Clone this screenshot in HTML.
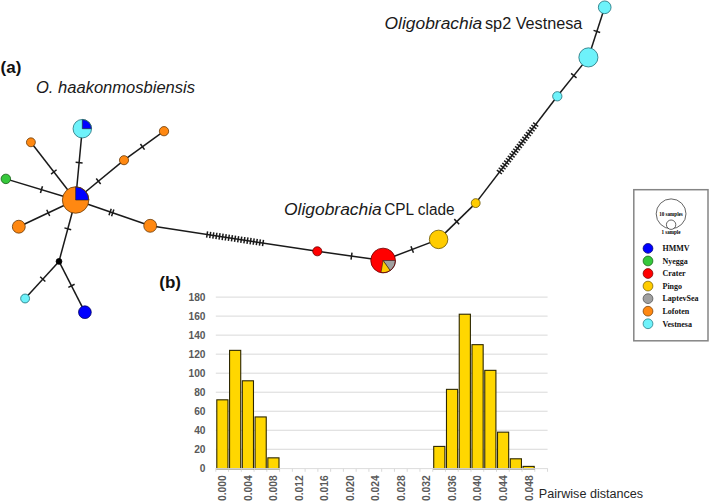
<!DOCTYPE html>
<html><head><meta charset="utf-8"><style>
html,body{margin:0;padding:0;background:#fff;}
body{width:709px;height:502px;overflow:hidden;font-family:"Liberation Sans",sans-serif;}
svg{position:absolute;left:0;top:0;}
</style></head><body>
<svg width="709" height="502" viewBox="0 0 709 502">
<g stroke="#1a1a1a" stroke-width="1.50" fill="none" stroke-linecap="butt">
<line x1="75.60" y1="200.00" x2="82.30" y2="128.70"/>
<line x1="75.63" y1="162.30" x2="82.60" y2="162.96"/>
<line x1="75.60" y1="200.00" x2="30.90" y2="142.30"/>
<line x1="51.06" y1="174.04" x2="56.59" y2="169.75"/>
<line x1="75.60" y1="200.00" x2="5.85" y2="178.90"/>
<line x1="40.44" y1="193.02" x2="42.47" y2="186.32"/>
<line x1="75.60" y1="200.00" x2="18.80" y2="226.70"/>
<line x1="49.72" y1="216.03" x2="46.74" y2="209.70"/>
<line x1="75.60" y1="200.00" x2="59.00" y2="261.40"/>
<line x1="71.19" y1="229.72" x2="64.43" y2="227.90"/>
<line x1="59.00" y1="261.40" x2="25.10" y2="298.50"/>
<line x1="45.34" y1="281.54" x2="40.17" y2="276.82"/>
<line x1="59.00" y1="261.40" x2="84.90" y2="312.20"/>
<line x1="74.59" y1="284.27" x2="68.35" y2="287.45"/>
<line x1="75.60" y1="200.00" x2="124.00" y2="160.20"/>
<line x1="96.23" y1="178.50" x2="100.68" y2="183.91"/>
<line x1="124.00" y1="160.20" x2="164.00" y2="131.20"/>
<line x1="140.44" y1="143.96" x2="144.55" y2="149.63"/>
<line x1="75.60" y1="200.00" x2="150.20" y2="225.80"/>
<line x1="111.26" y1="208.63" x2="108.97" y2="215.24"/>
<line x1="113.86" y1="209.53" x2="111.57" y2="216.14"/>
<line x1="150.20" y1="225.80" x2="317.30" y2="251.30"/>
<line x1="207.59" y1="231.32" x2="206.62" y2="237.65"/>
<line x1="210.69" y1="231.79" x2="209.73" y2="238.12"/>
<line x1="213.80" y1="232.27" x2="212.83" y2="238.59"/>
<line x1="216.90" y1="232.74" x2="215.94" y2="239.07"/>
<line x1="220.01" y1="233.22" x2="219.04" y2="239.54"/>
<line x1="223.11" y1="233.69" x2="222.15" y2="240.02"/>
<line x1="226.22" y1="234.16" x2="225.25" y2="240.49"/>
<line x1="229.32" y1="234.64" x2="228.36" y2="240.96"/>
<line x1="232.43" y1="235.11" x2="231.46" y2="241.44"/>
<line x1="235.53" y1="235.59" x2="234.57" y2="241.91"/>
<line x1="238.64" y1="236.06" x2="237.67" y2="242.39"/>
<line x1="241.74" y1="236.53" x2="240.78" y2="242.86"/>
<line x1="244.85" y1="237.01" x2="243.88" y2="243.33"/>
<line x1="247.95" y1="237.48" x2="246.99" y2="243.81"/>
<line x1="251.06" y1="237.95" x2="250.09" y2="244.28"/>
<line x1="254.16" y1="238.43" x2="253.20" y2="244.76"/>
<line x1="257.27" y1="238.90" x2="256.30" y2="245.23"/>
<line x1="260.38" y1="239.38" x2="259.41" y2="245.70"/>
<line x1="263.48" y1="239.85" x2="262.52" y2="246.18"/>
<line x1="317.30" y1="251.30" x2="383.10" y2="260.50"/>
<line x1="352.01" y1="252.62" x2="351.05" y2="259.55"/>
<line x1="383.10" y1="260.50" x2="438.60" y2="239.40"/>
<line x1="410.96" y1="246.17" x2="413.44" y2="252.71"/>
<line x1="438.60" y1="239.40" x2="475.70" y2="203.10"/>
<line x1="454.30" y1="219.14" x2="459.20" y2="224.15"/>
<line x1="475.70" y1="203.10" x2="557.30" y2="96.30"/>
<line x1="496.87" y1="170.13" x2="501.95" y2="174.01"/>
<line x1="498.68" y1="167.75" x2="503.77" y2="171.64"/>
<line x1="500.50" y1="165.38" x2="505.58" y2="169.26"/>
<line x1="502.31" y1="163.00" x2="507.40" y2="166.89"/>
<line x1="504.13" y1="160.62" x2="509.21" y2="164.51"/>
<line x1="505.94" y1="158.25" x2="511.03" y2="162.13"/>
<line x1="507.76" y1="155.87" x2="512.84" y2="159.76"/>
<line x1="509.57" y1="153.50" x2="514.66" y2="157.38"/>
<line x1="511.39" y1="151.12" x2="516.47" y2="155.01"/>
<line x1="513.20" y1="148.75" x2="518.29" y2="152.63"/>
<line x1="515.02" y1="146.37" x2="520.10" y2="150.26"/>
<line x1="516.83" y1="143.99" x2="521.92" y2="147.88"/>
<line x1="518.65" y1="141.62" x2="523.73" y2="145.50"/>
<line x1="520.46" y1="139.24" x2="525.55" y2="143.13"/>
<line x1="522.28" y1="136.87" x2="527.36" y2="140.75"/>
<line x1="524.09" y1="134.49" x2="529.18" y2="138.38"/>
<line x1="525.91" y1="132.12" x2="530.99" y2="136.00"/>
<line x1="527.72" y1="129.74" x2="532.81" y2="133.63"/>
<line x1="529.54" y1="127.36" x2="534.62" y2="131.25"/>
<line x1="531.35" y1="124.99" x2="536.44" y2="128.87"/>
<line x1="533.17" y1="122.61" x2="538.25" y2="126.50"/>
<line x1="557.30" y1="96.30" x2="588.40" y2="57.40"/>
<line x1="571.10" y1="73.44" x2="576.56" y2="77.81"/>
<line x1="588.40" y1="57.40" x2="604.70" y2="7.30"/>
<line x1="593.52" y1="30.36" x2="600.17" y2="32.53"/>
</g>
<circle cx="75.60" cy="200.00" r="13.25" fill="#ff8811"/>
<path d="M75.60 200.00 L75.60 186.75 A13.25 13.25 0 0 1 88.85 200.00 Z" fill="#0000ff" stroke="#222" stroke-width="0.6"/>
<circle cx="75.60" cy="200.00" r="13.25" fill="none" stroke="#6a3a08" stroke-width="0.8"/>
<circle cx="82.30" cy="128.70" r="9.25" fill="#6ef2fa"/>
<path d="M82.30 128.70 L82.30 119.45 A9.25 9.25 0 0 1 91.55 128.70 Z" fill="#0000ff" stroke="#222" stroke-width="0.6"/>
<circle cx="82.30" cy="128.70" r="9.25" fill="none" stroke="#1f6f78" stroke-width="0.8"/>
<circle cx="30.90" cy="142.30" r="4.45" fill="#ff8811" stroke="#6a3a08" stroke-width="0.8"/>
<circle cx="5.85" cy="178.90" r="4.75" fill="#36c83c" stroke="#145a14" stroke-width="0.8"/>
<circle cx="18.80" cy="226.70" r="6.45" fill="#ff8811" stroke="#6a3a08" stroke-width="0.8"/>
<circle cx="59.00" cy="261.40" r="2.90" fill="#000000" stroke="#000" stroke-width="0.8"/>
<circle cx="25.10" cy="298.50" r="4.45" fill="#6ef2fa" stroke="#1f6f78" stroke-width="0.8"/>
<circle cx="84.90" cy="312.20" r="6.35" fill="#0000ff" stroke="#000060" stroke-width="0.8"/>
<circle cx="124.00" cy="160.20" r="4.55" fill="#ff8811" stroke="#6a3a08" stroke-width="0.8"/>
<circle cx="164.00" cy="131.20" r="4.65" fill="#ff8811" stroke="#6a3a08" stroke-width="0.8"/>
<circle cx="150.20" cy="225.80" r="6.45" fill="#ff8811" stroke="#6a3a08" stroke-width="0.8"/>
<circle cx="317.30" cy="251.30" r="4.55" fill="#ff0000" stroke="#6a0000" stroke-width="0.8"/>
<circle cx="383.10" cy="260.50" r="12.35" fill="#ff0000"/>
<path d="M383.10 260.50 L395.45 260.50 A12.35 12.35 0 0 1 390.18 270.62 Z" fill="#a0a0a0" stroke="#222" stroke-width="0.6"/>
<path d="M383.10 260.50 L390.18 270.62 A12.35 12.35 0 0 1 380.96 272.66 Z" fill="#ffcc00" stroke="#222" stroke-width="0.6"/>
<circle cx="383.10" cy="260.50" r="12.35" fill="none" stroke="#6a0000" stroke-width="0.8"/>
<circle cx="438.60" cy="239.40" r="9.25" fill="#ffcc00" stroke="#6a5400" stroke-width="0.8"/>
<circle cx="475.70" cy="203.10" r="4.45" fill="#ffcc00" stroke="#6a5400" stroke-width="0.8"/>
<circle cx="557.30" cy="96.30" r="4.65" fill="#6ef2fa" stroke="#1f6f78" stroke-width="0.8"/>
<circle cx="588.40" cy="57.40" r="9.55" fill="#6ef2fa" stroke="#1f6f78" stroke-width="0.8"/>
<circle cx="604.70" cy="7.30" r="6.35" fill="#6ef2fa" stroke="#1f6f78" stroke-width="0.8"/>
<g stroke="#d9d9d9" stroke-width="1">
<line x1="215.80" y1="449.28" x2="547.6" y2="449.28"/>
<line x1="215.80" y1="430.26" x2="547.6" y2="430.26"/>
<line x1="215.80" y1="411.23" x2="547.6" y2="411.23"/>
<line x1="215.80" y1="392.21" x2="547.6" y2="392.21"/>
<line x1="215.80" y1="373.19" x2="547.6" y2="373.19"/>
<line x1="215.80" y1="354.17" x2="547.6" y2="354.17"/>
<line x1="215.80" y1="335.14" x2="547.6" y2="335.14"/>
<line x1="215.80" y1="316.12" x2="547.6" y2="316.12"/>
<line x1="215.80" y1="297.10" x2="547.6" y2="297.10"/>
<line x1="215.80" y1="468.30" x2="215.80" y2="471.80"/>
<line x1="228.56" y1="468.30" x2="228.56" y2="471.80"/>
<line x1="241.32" y1="468.30" x2="241.32" y2="471.80"/>
<line x1="254.08" y1="468.30" x2="254.08" y2="471.80"/>
<line x1="266.84" y1="468.30" x2="266.84" y2="471.80"/>
<line x1="279.60" y1="468.30" x2="279.60" y2="471.80"/>
<line x1="292.36" y1="468.30" x2="292.36" y2="471.80"/>
<line x1="305.12" y1="468.30" x2="305.12" y2="471.80"/>
<line x1="317.88" y1="468.30" x2="317.88" y2="471.80"/>
<line x1="330.64" y1="468.30" x2="330.64" y2="471.80"/>
<line x1="343.40" y1="468.30" x2="343.40" y2="471.80"/>
<line x1="356.16" y1="468.30" x2="356.16" y2="471.80"/>
<line x1="368.92" y1="468.30" x2="368.92" y2="471.80"/>
<line x1="381.68" y1="468.30" x2="381.68" y2="471.80"/>
<line x1="394.44" y1="468.30" x2="394.44" y2="471.80"/>
<line x1="407.20" y1="468.30" x2="407.20" y2="471.80"/>
<line x1="419.96" y1="468.30" x2="419.96" y2="471.80"/>
<line x1="432.72" y1="468.30" x2="432.72" y2="471.80"/>
<line x1="445.48" y1="468.30" x2="445.48" y2="471.80"/>
<line x1="458.24" y1="468.30" x2="458.24" y2="471.80"/>
<line x1="471.00" y1="468.30" x2="471.00" y2="471.80"/>
<line x1="483.76" y1="468.30" x2="483.76" y2="471.80"/>
<line x1="496.52" y1="468.30" x2="496.52" y2="471.80"/>
<line x1="509.28" y1="468.30" x2="509.28" y2="471.80"/>
<line x1="522.04" y1="468.30" x2="522.04" y2="471.80"/>
<line x1="534.80" y1="468.30" x2="534.80" y2="471.80"/>
<line x1="547.56" y1="468.30" x2="547.56" y2="471.80"/>
</g>
<g fill="#ffd700" stroke="#2e2800" stroke-width="1.1">
<rect x="216.80" y="399.82" width="11.16" height="68.98"/>
<rect x="229.56" y="350.36" width="11.16" height="118.44"/>
<rect x="242.32" y="380.80" width="11.16" height="88.00"/>
<rect x="255.08" y="416.94" width="11.16" height="51.86"/>
<rect x="267.84" y="457.84" width="11.16" height="10.96"/>
<rect x="433.72" y="446.42" width="11.16" height="22.38"/>
<rect x="446.48" y="389.36" width="11.16" height="79.44"/>
<rect x="459.24" y="314.22" width="11.16" height="154.58"/>
<rect x="472.00" y="344.66" width="11.16" height="124.14"/>
<rect x="484.76" y="370.34" width="11.16" height="98.46"/>
<rect x="497.52" y="432.16" width="11.16" height="36.64"/>
<rect x="510.28" y="458.79" width="11.16" height="10.01"/>
<rect x="523.04" y="466.40" width="11.16" height="2.40"/>
</g>
<line x1="215.80" y1="468.60" x2="547.6" y2="468.60" stroke="#dcdcdc" stroke-width="1"/>
<g font-family="Liberation Sans" font-weight="bold" font-size="10.2" fill="#595959" text-anchor="end">
<text x="205.5" y="472.30">0</text>
<text x="205.5" y="453.28">20</text>
<text x="205.5" y="434.26">40</text>
<text x="205.5" y="415.23">60</text>
<text x="205.5" y="396.21">80</text>
<text x="205.5" y="377.19">100</text>
<text x="205.5" y="358.17">120</text>
<text x="205.5" y="339.14">140</text>
<text x="205.5" y="320.12">160</text>
<text x="205.5" y="301.10">180</text>
</g>
<g font-family="Liberation Sans" font-weight="bold" font-size="10.3" fill="#595959">
<text transform="translate(226.28 501) rotate(-90)" x="0" y="0">0.000</text>
<text transform="translate(251.80 501) rotate(-90)" x="0" y="0">0.004</text>
<text transform="translate(277.32 501) rotate(-90)" x="0" y="0">0.008</text>
<text transform="translate(302.84 501) rotate(-90)" x="0" y="0">0.012</text>
<text transform="translate(328.36 501) rotate(-90)" x="0" y="0">0.016</text>
<text transform="translate(353.88 501) rotate(-90)" x="0" y="0">0.020</text>
<text transform="translate(379.40 501) rotate(-90)" x="0" y="0">0.024</text>
<text transform="translate(404.92 501) rotate(-90)" x="0" y="0">0.028</text>
<text transform="translate(430.44 501) rotate(-90)" x="0" y="0">0.032</text>
<text transform="translate(455.96 501) rotate(-90)" x="0" y="0">0.036</text>
<text transform="translate(481.48 501) rotate(-90)" x="0" y="0">0.040</text>
<text transform="translate(507.00 501) rotate(-90)" x="0" y="0">0.044</text>
<text transform="translate(532.52 501) rotate(-90)" x="0" y="0">0.048</text>
</g>
<text x="538.8" y="497.8" font-family="Liberation Sans" font-size="12" fill="#262626" textLength="104.3" lengthAdjust="spacingAndGlyphs">Pairwise distances</text>
<rect x="633.8" y="189.7" width="74.2" height="151.1" fill="#fff" stroke="#858585" stroke-width="1.5"/>
<circle cx="671.1" cy="213.8" r="14.9" fill="none" stroke="#222" stroke-width="0.7"/>
<circle cx="671.1" cy="224.7" r="4.7" fill="#fff" stroke="#222" stroke-width="0.7"/>
<text x="671" y="215.5" font-family="Liberation Serif" font-weight="bold" font-size="5.1" text-anchor="middle" fill="#000">10 samples</text>
<text x="671" y="234" font-family="Liberation Serif" font-weight="bold" font-size="5.1" text-anchor="middle" fill="#000">1 sample</text>
<circle cx="648" cy="248.40" r="4.9" fill="#0000ff" stroke="#000060" stroke-width="0.7"/>
<text x="662.5" y="251.20" font-family="Liberation Serif" font-weight="bold" font-size="8" fill="#111">HMMV</text>
<circle cx="648" cy="260.96" r="4.9" fill="#36c83c" stroke="#145a14" stroke-width="0.7"/>
<text x="662.5" y="263.76" font-family="Liberation Serif" font-weight="bold" font-size="8" fill="#111">Nyegga</text>
<circle cx="648" cy="273.52" r="4.9" fill="#ff0000" stroke="#6a0000" stroke-width="0.7"/>
<text x="662.5" y="276.32" font-family="Liberation Serif" font-weight="bold" font-size="8" fill="#111">Crater</text>
<circle cx="648" cy="286.08" r="4.9" fill="#ffcc00" stroke="#6a5400" stroke-width="0.7"/>
<text x="662.5" y="288.88" font-family="Liberation Serif" font-weight="bold" font-size="8" fill="#111">Pingo</text>
<circle cx="648" cy="298.64" r="4.9" fill="#a0a0a0" stroke="#444" stroke-width="0.7"/>
<text x="662.5" y="301.44" font-family="Liberation Serif" font-weight="bold" font-size="8" fill="#111">LaptevSea</text>
<circle cx="648" cy="311.20" r="4.9" fill="#ff8811" stroke="#6a3a08" stroke-width="0.7"/>
<text x="662.5" y="314.00" font-family="Liberation Serif" font-weight="bold" font-size="8" fill="#111">Lofoten</text>
<circle cx="648" cy="323.76" r="4.9" fill="#6ef2fa" stroke="#1f6f78" stroke-width="0.7"/>
<text x="662.5" y="326.56" font-family="Liberation Serif" font-weight="bold" font-size="8" fill="#111">Vestnesa</text>
<text x="0.6" y="72.8" font-family="Liberation Sans" font-weight="bold" font-size="17" fill="#111">(a)</text>
<text x="159.3" y="287.9" font-family="Liberation Sans" font-weight="bold" font-size="17" fill="#111">(b)</text>
<text x="36.0" y="93.1" font-style="italic" textLength="159" font-family="Liberation Sans" font-size="16" fill="#1a1a1a" lengthAdjust="spacingAndGlyphs">O. haakonmosbiensis</text>
<text x="384.6" y="28.8" font-style="italic" textLength="97.6" font-family="Liberation Sans" font-size="16" fill="#1a1a1a" lengthAdjust="spacingAndGlyphs">Oligobrachia</text>
<text x="485.0" y="28.8" textLength="97.4" font-family="Liberation Sans" font-size="16" fill="#1a1a1a" lengthAdjust="spacingAndGlyphs">sp2 Vestnesa</text>
<text x="284.0" y="214.7" font-style="italic" textLength="97.8" font-family="Liberation Sans" font-size="16" fill="#1a1a1a" lengthAdjust="spacingAndGlyphs">Oligobrachia</text>
<text x="384.2" y="214.7" textLength="70.4" font-family="Liberation Sans" font-size="16" fill="#1a1a1a" lengthAdjust="spacingAndGlyphs">CPL clade</text>
</svg>
</body></html>
